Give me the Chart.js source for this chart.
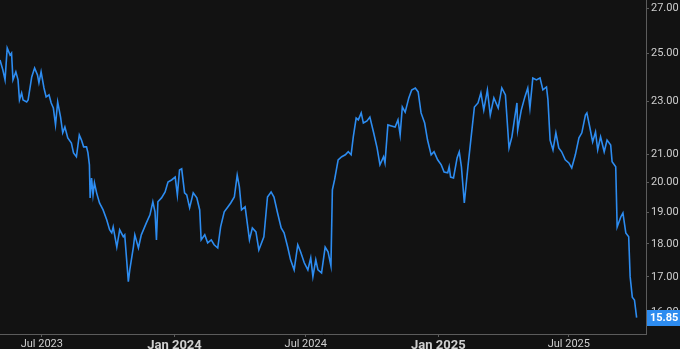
<!DOCTYPE html>
<html>
<head>
<meta charset="utf-8">
<script src="https://cdn.jsdelivr.net/npm/chart.js@4/dist/chart.umd.min.js"></script>
<style>
  html, body { margin: 0; padding: 0; background: #121212; }
  #wrap { width: 680px; height: 349px; }
</style>
</head>
<body>
<div id="wrap"><canvas id="priceChart" width="680" height="349"></canvas></div>
<script>
// ============ DATA ============

const dates = [
    '2023-05-04', '2023-05-08', '2023-05-11', '2023-05-14', '2023-05-18', '2023-05-20', '2023-05-22', '2023-05-26',
    '2023-05-29', '2023-05-31', '2023-06-03', '2023-06-05', '2023-06-10', '2023-06-12', '2023-06-17', '2023-06-21',
    '2023-06-25', '2023-06-27', '2023-06-30', '2023-07-04', '2023-07-07', '2023-07-11', '2023-07-14', '2023-07-17',
    '2023-07-20', '2023-07-23', '2023-07-27', '2023-07-30', '2023-08-02', '2023-08-06', '2023-08-11', '2023-08-14',
    '2023-08-18', '2023-08-22', '2023-08-25', '2023-08-28', '2023-09-01', '2023-09-03', '2023-09-05', '2023-09-06',
    '2023-09-08', '2023-09-10', '2023-09-12', '2023-09-15', '2023-09-19', '2023-09-24', '2023-09-29', '2023-10-03',
    '2023-10-06', '2023-10-08', '2023-10-13', '2023-10-17', '2023-10-22', '2023-10-24', '2023-10-29', '2023-10-31',
    '2023-11-05', '2023-11-07', '2023-11-12', '2023-11-16', '2023-11-23', '2023-11-28', '2023-12-02', '2023-12-05',
    '2023-12-07', '2023-12-09', '2023-12-14', '2023-12-19', '2023-12-23', '2023-12-28', '2024-01-02', '2024-01-05',
    '2024-01-08', '2024-01-11', '2024-01-15', '2024-01-18', '2024-01-22', '2024-01-27', '2024-02-01', '2024-02-05',
    '2024-02-07', '2024-02-12', '2024-02-16', '2024-02-21', '2024-02-25', '2024-03-01', '2024-03-05', '2024-03-10',
    '2024-03-15', '2024-03-19', '2024-03-24', '2024-03-28', '2024-03-31', '2024-04-03', '2024-04-08', '2024-04-14',
    '2024-04-18', '2024-04-23', '2024-04-27', '2024-05-04', '2024-05-09', '2024-05-14', '2024-05-18', '2024-05-23',
    '2024-05-28', '2024-06-01', '2024-06-06', '2024-06-10', '2024-06-15', '2024-06-20', '2024-06-24', '2024-06-29',
    '2024-07-04', '2024-07-08', '2024-07-11', '2024-07-15', '2024-07-18', '2024-07-23', '2024-07-28', '2024-08-01',
    '2024-08-05', '2024-08-07', '2024-08-10', '2024-08-15', '2024-08-20', '2024-08-25', '2024-08-29', '2024-09-02',
    '2024-09-05', '2024-09-09', '2024-09-12', '2024-09-16', '2024-09-19', '2024-09-24', '2024-09-28', '2024-10-03',
    '2024-10-08', '2024-10-12', '2024-10-17', '2024-10-19', '2024-10-23', '2024-10-28', '2024-11-02', '2024-11-06',
    '2024-11-09', '2024-11-12', '2024-11-16', '2024-11-21', '2024-11-25', '2024-11-30', '2024-12-04', '2024-12-08',
    '2024-12-13', '2024-12-17', '2024-12-22', '2024-12-26', '2024-12-31', '2025-01-05', '2025-01-09', '2025-01-14',
    '2025-01-16', '2025-01-18', '2025-01-22', '2025-01-27', '2025-01-30', '2025-02-02', '2025-02-06', '2025-02-11',
    '2025-02-15', '2025-02-20', '2025-02-25', '2025-03-01', '2025-03-05', '2025-03-10', '2025-03-14', '2025-03-19',
    '2025-03-25', '2025-03-30', '2025-04-04', '2025-04-09', '2025-04-13', '2025-04-17', '2025-04-20', '2025-04-21',
    '2025-04-26', '2025-05-01', '2025-05-05', '2025-05-08', '2025-05-12', '2025-05-17', '2025-05-22', '2025-05-26',
    '2025-05-31', '2025-06-02', '2025-06-05', '2025-06-09', '2025-06-13', '2025-06-17', '2025-06-21', '2025-06-26',
    '2025-07-01', '2025-07-05', '2025-07-10', '2025-07-15', '2025-07-19', '2025-07-24', '2025-07-26', '2025-07-30',
    '2025-08-03', '2025-08-07', '2025-08-10', '2025-08-14', '2025-08-19', '2025-08-23', '2025-08-28', '2025-08-30',
    '2025-09-04', '2025-09-06', '2025-09-11', '2025-09-14', '2025-09-18', '2025-09-22', '2025-09-24', '2025-09-27',
    '2025-09-30', '2025-10-03'
];

const prices = [
    24.70, 24.28, 23.87, 25.22, 24.91, 25.00, 23.87, 24.20,
    23.87, 23.06, 23.34, 23.06, 22.98, 23.06, 23.99, 24.36,
    24.07, 23.75, 24.20, 23.54, 23.18, 23.26, 22.94, 22.74,
    22.09, 22.98, 22.39, 21.79, 22.01, 21.60, 21.41, 21.05,
    20.91, 21.71, 21.52, 21.27, 21.27, 21.05, 20.62, 19.48,
    20.16, 19.58, 19.99, 19.65, 19.31, 19.08, 18.76, 18.44,
    18.34, 18.53, 17.90, 18.44, 18.22, 18.28, 16.86, 17.21,
    17.90, 18.28, 17.87, 18.28, 18.66, 18.92, 19.35, 19.02,
    18.12, 19.35, 19.48, 19.68, 20.02, 20.09, 20.19, 19.58,
    20.44, 20.48, 19.65, 19.58, 19.15, 19.65, 19.48, 19.08,
    18.12, 18.28, 18.03, 18.12, 17.97, 17.87, 18.53, 19.02,
    19.18, 19.31, 19.51, 20.26, 19.85, 19.08, 19.18, 18.12,
    18.50, 18.37, 17.81, 18.22, 19.51, 19.68, 19.51, 18.98,
    18.50, 18.34, 17.90, 17.51, 17.21, 17.97, 17.75, 17.42,
    17.21, 17.57, 17.01, 17.51, 17.21, 17.12, 17.90, 17.75,
    17.33, 19.75, 20.09, 20.80, 20.91, 20.98, 21.09, 20.98,
    21.64, 22.35, 22.28, 22.55, 22.16, 22.24, 22.39, 21.82,
    21.23, 20.62, 20.91, 20.69, 22.09, 22.05, 22.01, 22.28,
    21.71, 22.78, 22.58, 23.14, 23.46, 23.54, 23.38, 22.55,
    22.16, 21.52, 20.98, 21.09, 20.80, 20.62, 20.37, 20.34,
    20.55, 20.19, 20.16, 20.87, 21.09, 20.55, 19.31, 20.55,
    21.52, 22.78, 22.94, 23.34, 22.66, 23.46, 22.47, 23.14,
    22.74, 23.54, 23.26, 21.23, 21.64, 22.39, 22.94, 21.90,
    22.66, 23.18, 23.54, 22.74, 23.95, 23.87, 23.95, 23.46,
    23.58, 23.06, 21.52, 21.16, 21.79, 21.23, 21.09, 20.80,
    20.69, 20.51, 20.98, 21.60, 21.79, 22.47, 22.55, 22.01,
    21.45, 21.82, 21.16, 21.64, 21.09, 21.52, 21.34, 20.73,
    20.55, 18.53, 18.85, 18.98, 18.34, 18.22, 17.01, 16.42,
    16.34, 15.85
];

const xTickDates = ['2023-07-01', '2024-01-01', '2024-07-01', '2025-01-01', '2025-07-01'];
const xTickLabels = ['Jul 2023', 'Jan 2024', 'Jul 2024', 'Jan 2025', 'Jul 2025'];
const yTickValues = [16, 17, 18, 19, 20, 21, 23, 25, 27];

// ============ CHART ============

const FONT = 'Roboto, "Liberation Sans", sans-serif';
const LINE = '#2d8cf0';
const AXIS = '#5c5c5c';
const TEXT = '#cfcfcf';

const points = dates.map((d, i) => ({ x: Date.parse(d), y: prices[i] }));
const lastPrice = prices[prices.length - 1];

const lastPriceTag = {
    id: 'lastPriceTag',
    afterDraw(chart) {
        const ctx = chart.ctx;
        const y = chart.scales.y.getPixelForValue(lastPrice);
        const left = chart.chartArea.right + 1;
        ctx.save();
        ctx.fillStyle = LINE;
        ctx.fillRect(left, Math.round(y) - 8, chart.width - left, 16);
        ctx.fillStyle = '#ffffff';
        ctx.font = 'bold 11px ' + FONT;
        ctx.textBaseline = 'middle';
        ctx.textAlign = 'left';
        ctx.fillText(lastPrice.toFixed(2), left + 3, Math.round(y) + 0.5);
        ctx.restore();
    }
};

// no extra padding around the plot: the line runs right to the edges
function noPadding(scale) {
    scale.paddingTop = 0;
    scale.paddingBottom = 0;
    scale.paddingLeft = 0;
    scale.paddingRight = 0;
}

new Chart(document.getElementById('priceChart'), {
    type: 'line',
    data: {
        datasets: [{
            data: points,
            borderColor: LINE,
            borderWidth: 1.6,
            pointRadius: 0,
            tension: 0,
            fill: false,
        }]
    },
    options: {
        responsive: false,
        animation: false,
        events: [],
        layout: { padding: 0 },
        plugins: { legend: { display: false }, tooltip: { enabled: false } },
        scales: {
            x: {
                type: 'linear',
                min: Date.parse('2023-05-04'),
                max: Date.parse('2025-10-16'),
                afterBuildTicks: scale => {
                    scale.ticks = xTickDates.map(d => ({ value: Date.parse(d) }));
                },
                afterFit: scale => { scale.height = 15; noPadding(scale); },
                grid: { drawOnChartArea: false, drawTicks: true, tickLength: 3, color: AXIS },
                border: { display: true, color: AXIS },
                ticks: {
                    padding: 1,
                    maxRotation: 0,
                    autoSkip: false,
                    color: TEXT,
                    callback: (v, i) => xTickLabels[i],
                    font: ctx => {
                        const i = ctx.index;
                        const isJan = xTickLabels[i] && xTickLabels[i].startsWith('Jan');
                        return isJan
                            ? { family: FONT, size: 13, weight: 'bold' }
                            : { family: FONT, size: 11 };
                    }
                }
            },
            y: {
                type: 'logarithmic',
                position: 'right',
                min: 15.41,
                max: 27.39,
                afterBuildTicks: scale => {
                    scale.ticks = yTickValues.map(v => ({ value: v }));
                },
                afterFit: scale => { scale.width = 34; noPadding(scale); },
                grid: { drawOnChartArea: false, drawTicks: true, tickLength: 3, color: AXIS },
                border: { display: true, color: AXIS },
                ticks: {
                    padding: 2,
                    autoSkip: false,
                    color: TEXT,
                    font: { family: FONT, size: 11 },
                    callback: v => Number(v).toFixed(2)
                }
            }
        }
    },
    plugins: [lastPriceTag]
});
</script>
</body>
</html>
